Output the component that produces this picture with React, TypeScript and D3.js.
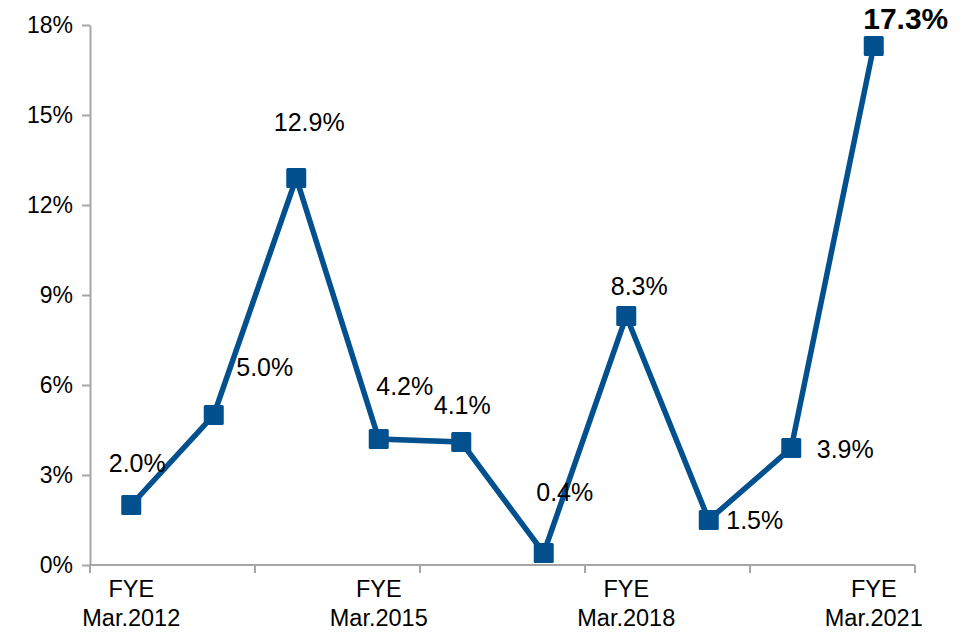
import React, { useRef, useEffect } from 'react'
import * as d3 from 'd3'

// fiscal years, one point each
const years = ['2012', '2013', '2014', '2015', '2016', '2017', '2018', '2019', '2020', '2021']
const values = [2.0, 5.0, 12.9, 4.2, 4.1, 0.4, 8.3, 1.5, 3.9, 17.3]
const yTicks = [0, 3, 6, 9, 12, 15, 18]
const labeledYears = ['2012', '2015', '2018', '2021']

// hand placed data label offsets (px from the marker)
const labelOffsets: [number, number][] = [
  [6, -42], [51, -48], [13, -56], [26, -53], [1, -37],
  [21, -61], [13, -30], [46, 0], [54, 1], [32, -28]
]

const width = 963
const height = 636
const margin = { top: 25, right: 48, bottom: 71, left: 90 }
const lineColor = '#02508E'
const axisColor = '#A6A6A6'
const font = 'Arial, "Liberation Sans", sans-serif'

export default function App() {
  const svgRef = useRef<SVGSVGElement>(null)

  useEffect(() => {
    if (!svgRef.current) return
    const svg = d3.select(svgRef.current)
    svg.selectAll('*').remove()

    const x = d3.scaleBand<string>()
      .domain(years)
      .range([margin.left, width - margin.right])
      .padding(0)
    const y = d3.scaleLinear()
      .domain([0, 18])
      .range([height - margin.bottom, margin.top])
    const cx = (d: string) => (x(d) as number) + x.bandwidth() / 2

    // y axis
    const yAxis = svg.append('g')
      .attr('transform', `translate(${margin.left},0)`)
      .call(d3.axisLeft(y).tickValues(yTicks).tickSize(8).tickSizeOuter(0).tickPadding(9).tickFormat(d => `${d}%`))
    yAxis.select('.domain').attr('stroke', axisColor).attr('stroke-width', 2)
    yAxis.selectAll('line').attr('stroke', axisColor).attr('stroke-width', 2)
    yAxis.selectAll('text')
      .attr('fill', '#000')
      .style('font-family', font)
      .style('font-size', '23px')

    // x axis: ticks every two bands, labels every three
    const x0 = y(0)
    const xAxis = svg.append('g')
    xAxis.append('line')
      .attr('x1', margin.left).attr('x2', width - margin.right)
      .attr('y1', x0).attr('y2', x0)
      .attr('stroke', axisColor).attr('stroke-width', 2)
    const tickYears = years.filter((_, i) => i % 2 === 0)
    xAxis.selectAll('.xtick')
      .data([...tickYears.map(d => x(d) as number), width - margin.right])
      .enter()
      .append('line')
      .attr('x1', d => d).attr('x2', d => d)
      .attr('y1', x0).attr('y2', x0 + 8)
      .attr('stroke', axisColor).attr('stroke-width', 2)
    const lbl = xAxis.selectAll('.xlabel')
      .data(labeledYears)
      .enter()
      .append('text')
      .attr('text-anchor', 'middle')
      .style('font-family', font)
      .style('font-size', '23.5px')
      .attr('fill', '#000')
    lbl.append('tspan').attr('x', d => cx(d)).attr('y', x0 + 32).text('FYE')
    lbl.append('tspan').attr('x', d => cx(d)).attr('y', x0 + 61).text(d => `Mar.${d}`)

    // line + markers
    const line = d3.line<number>()
      .x((_, i) => cx(years[i]))
      .y(d => y(d))
    svg.append('path')
      .datum(values)
      .attr('fill', 'none')
      .attr('stroke', lineColor)
      .attr('stroke-width', 5.5)
      .attr('stroke-linejoin', 'miter')
      .attr('d', line)

    svg.selectAll('.marker')
      .data(values)
      .enter()
      .append('rect')
      .attr('x', (_, i) => cx(years[i]) - 10)
      .attr('y', d => y(d) - 10)
      .attr('width', 20)
      .attr('height', 20)
      .attr('rx', 1.5)
      .attr('fill', lineColor)

    // data labels
    svg.selectAll('.dlabel')
      .data(values)
      .enter()
      .append('text')
      .attr('x', (_, i) => cx(years[i]) + labelOffsets[i][0])
      .attr('y', (d, i) => y(d) + labelOffsets[i][1])
      .attr('dy', '0.35em')
      .attr('text-anchor', 'middle')
      .style('font-family', font)
      .style('font-size', (_, i) => (i === values.length - 1 ? '30px' : '25px'))
      .style('font-weight', (_, i) => (i === values.length - 1 ? 'bold' : 'normal'))
      .attr('fill', '#000')
      .text(d => `${d.toFixed(1)}%`)
  }, [])

  return (
    <div style={{ position: 'fixed', top: 0, left: 0 }}>
      <svg ref={svgRef} width={width} height={height} style={{ display: 'block', background: '#fff' }} />
    </div>
  )
}
